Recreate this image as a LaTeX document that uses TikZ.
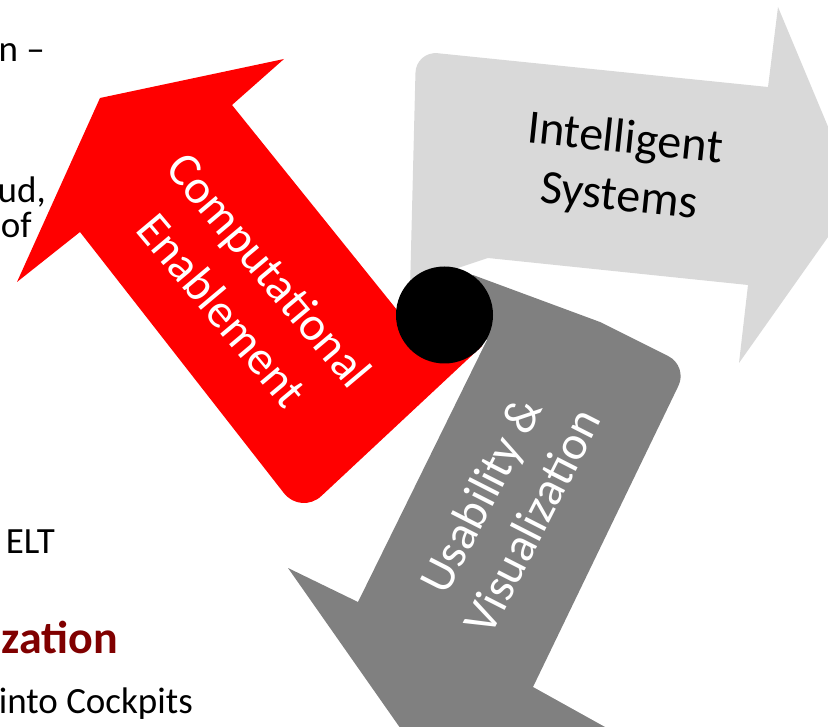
\documentclass[tikz,border=0pt]{standalone}
\usepackage{fontspec}
\setmainfont{Carlito}
\definecolor{arrowred}{RGB}{255,0,0}
\definecolor{lightarrow}{RGB}{217,217,217}
\definecolor{darkarrow}{RGB}{128,128,128}
\definecolor{titlered}{RGB}{128,0,0}
\tikzset{
  arrowlabel/.style={align=center,inner sep=0pt,font=\fontsize{48}{58}\selectfont},
  sidetext/.style={anchor=base east,inner sep=0pt,font=\fontsize{37}{44}\selectfont}
}
\begin{document}
\begin{tikzpicture}[x=1pt,y=-1pt]
      \useasboundingbox (0,0) rectangle (828,727);
      \clip (0,0) rectangle (828,727);

      \fill[arrowred] (100,98) -- (284,59) -- (232,105) -- (397,310) -- (444,315) -- (482,346)
        [rounded corners=28] -- (301,515) [sharp corners] -- (80,232) -- (17,282) -- cycle;
      \fill[lightarrow] (444,315) -- (458,268) -- (488,258) -- (748,285) -- (739,363) -- (857,196)
        -- (778,7) -- (768,87) [rounded corners=22] -- (416,51) [sharp corners] -- (410,290) -- cycle;
      \fill[darkarrow] (444,315) -- (473,275) -- (600,322) [rounded corners=22] -- (688,366)
        [sharp corners] -- (533,687) -- (605,727) -- (403,732) -- (288,568) -- (358,602) -- (487,340) -- cycle;
      \node[circle,fill=black,inner sep=0pt,minimum size=97] (hub) at (444.5,315) {};

      \node[arrowlabel,white,rotate=-50,font=\fontsize{48}{62}\selectfont] (comp) at (246,290) {Computational\\Enablement};
      \node[arrowlabel,black,rotate=-6] (intel) at (622,169) {Intelligent\\Systems};
      \node[arrowlabel,white,rotate=63] (usab) at (506,508) {Usability \&\\Visualization};

      \node[sidetext] (t1) at (45,62) {n –};
      \node[sidetext] (t2) at (46,203) {ud,};
      \node[sidetext] (t3) at (32,238) {of};
      \node[sidetext] (t4) at (55,553) {ELT};
      \node[sidetext,text=titlered,font=\fontsize{46}{55}\selectfont\bfseries] (t5) at (118,653) {zation};
      \node[sidetext] (t6) at (193,713) {into Cockpits};
    \end{tikzpicture}
\end{document}
